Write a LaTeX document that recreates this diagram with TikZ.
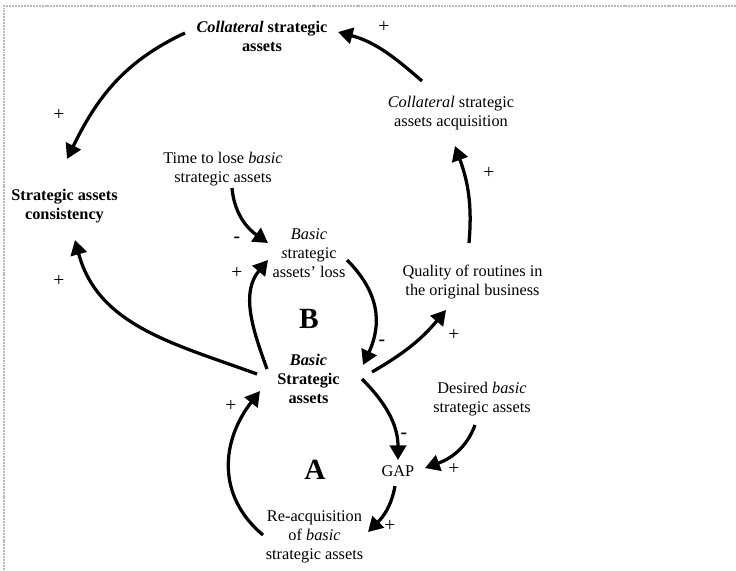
\documentclass[tikz,border=0pt]{standalone}
\usepackage{fontspec}
\setmainfont{Liberation Serif}
\usepackage{tikz}
\usetikzlibrary{arrows.meta,positioning}
\tikzset{nod/.style={inner sep=1pt,align=center,font=\fontsize{10}{11.7}\selectfont}}
\tikzset{nodb/.style={nod,font=\fontsize{10}{11.7}\selectfont\bfseries}}
\tikzset{sgn/.style={inner sep=0pt,font=\fontsize{12}{14}\selectfont}}
\tikzset{sgm/.style={inner sep=0pt,font=\fontsize{12}{14}\selectfont\bfseries}}
\tikzset{lp/.style={inner sep=0pt,font=\fontsize{18}{20}\selectfont\bfseries}}
\tikzset{lnk/.style={line width=2pt,-{Triangle[length=9pt,width=10pt]}}}

\begin{document}
\begin{tikzpicture}[x=0.6135pt,y=0.6135pt]
\useasboundingbox (0,0) rectangle (736,-570);
\draw [gray!55,line width=0.9pt,dash pattern=on 1.2pt off 0.6pt] (736,-6) -- (4,-6) -- (4,-570);

\node [nodb] at (262,-36) (top) {\textit{Collateral} strategic\\assets};
\node [nod] at (451,-113) (acq) {\textit{Collateral} strategic\\assets acquisition};
\node [nodb] at (64.5,-206) (cons) {Strategic assets\\consistency};
\node [nod] at (223,-169) (time) {Time to lose \textit{basic}\\strategic assets};
\node [nod] at (309,-253) (loss) {\textit{Basic}\\\textit{s}trategic\\assets' loss};
\node [nod] at (472.5,-282) (qual) {Quality of routines in\\the original business};
\node [nodb] at (308.5,-379) (bsa) {\textit{Basic}\\Strategic\\assets};
\node [nod] at (398,-471.5) (gap) {GAP};
\node [nod] at (482,-399) (des) {Desired \textit{basic}\\strategic assets};
\node [nod] at (314.5,-537) (reacq) {Re-acquisition\\of \textit{basic}\\strategic assets};

\node [lp] at (309,-319) (lb) {B};
\node [lp] at (315,-470) (la) {A};

% polarities
\node [sgn] at (384,-27) (p1) {+};
\node [sgn] at (59,-115) (p2) {+};
\node [sgn] at (489,-173) (p3) {+};
\node [sgm] at (237,-240) (m1) {-};
\node [sgn] at (237,-273) (p4) {+};
\node [sgm] at (382,-343) (m2) {-};
\node [sgn] at (59,-281) (p5) {+};
\node [sgn] at (454,-335) (p6) {+};
\node [sgm] at (404,-436) (m3) {-};
\node [sgn] at (454,-469) (p7) {+};
\node [sgn] at (390,-526) (p8) {+};
\node [sgn] at (231,-406) (p9) {+};

% links
\draw [lnk] ([shift={(-29,32)}]acq.center) to[out=139,in=-15] ([shift={(76,4)}]top.center);
\draw [lnk] ([shift={(-77,3)}]top.center) to[out=205,in=64] ([shift={(2.5,47)}]cons.center);
\draw [lnk] ([shift={(9,-19)}]time.center) to[out=-85,in=145] ([shift={(-41,10)}]loss.center);
\draw [lnk] ([shift={(-41.5,10)}]bsa.center) to[out=110,in=-130] ([shift={(-41,-7)}]loss.center);
\draw [lnk] ([shift={(38,-7)}]loss.center) to[out=-45,in=65,looseness=1.1] ([shift={(54.5,14)}]bsa.center);
\draw [lnk] ([shift={(-51.5,5)}]bsa.center) to[out=160,in=-75] ([shift={(10.5,-34)}]cons.center);
\draw [lnk] ([shift={(63.5,7)}]bsa.center) to[out=30,in=-130] ([shift={(-26.5,-28)}]qual.center);
\draw [lnk] ([shift={(-3.5,39)}]qual.center) to[out=85,in=-70] ([shift={(4,-33)}]acq.center);
\draw [lnk] ([shift={(53.5,0)}]bsa.center) to[out=-45,in=90] ([shift={(0,11.5)}]gap.center);
\draw [lnk] ([shift={(-7,-26)}]des.center) to[out=-110,in=20] ([shift={(27,3.5)}]gap.center);
\draw [lnk] ([shift={(-3,-14.5)}]gap.center) to[out=-100,in=45] ([shift={(53.5,5)}]reacq.center);
\draw [lnk] ([shift={(-51.5,2)}]reacq.center) to[out=140,in=-128,looseness=1.1] ([shift={(-48.5,-12)}]bsa.center);
\end{tikzpicture}
\end{document}
